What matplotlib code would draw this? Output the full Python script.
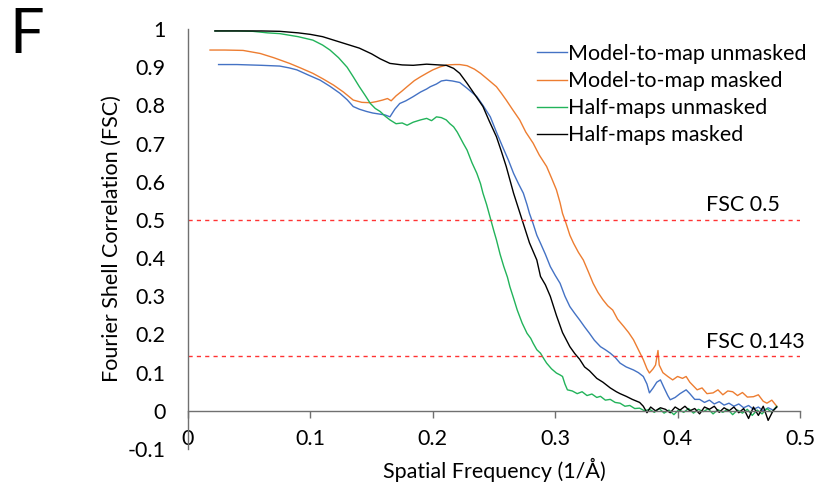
import matplotlib
matplotlib.use("Agg")
import matplotlib.pyplot as plt

# FSC curves (spatial frequency, FSC)
model_unmasked = [
    (0.025, 0.907), (0.04, 0.907), (0.06, 0.905), (0.075, 0.903), (0.083, 0.898), (0.089, 0.893),
    (0.098, 0.88), (0.108, 0.866), (0.116, 0.85), (0.124, 0.832), (0.130, 0.815), (0.135, 0.797),
    (0.140, 0.79), (0.146, 0.784), (0.151, 0.78), (0.157, 0.777), (0.161, 0.775), (0.165, 0.770),
    (0.169, 0.79), (0.173, 0.805), (0.178, 0.812), (0.184, 0.823), (0.190, 0.835), (0.195, 0.843),
    (0.198, 0.849), (0.203, 0.856), (0.207, 0.864), (0.211, 0.866), (0.216, 0.864), (0.222, 0.860),
    (0.228, 0.845), (0.236, 0.823), (0.241, 0.80), (0.247, 0.770), (0.252, 0.73), (0.257, 0.692),
    (0.262, 0.655), (0.266, 0.622), (0.270, 0.595), (0.274, 0.570), (0.277, 0.54), (0.279, 0.517),
    (0.282, 0.49), (0.285, 0.46), (0.288, 0.439), (0.292, 0.41), (0.296, 0.378), (0.300, 0.355),
    (0.304, 0.334), (0.308, 0.30), (0.312, 0.273), (0.316, 0.255), (0.320, 0.238), (0.324, 0.22),
    (0.328, 0.203), (0.332, 0.185), (0.337, 0.168), (0.341, 0.16), (0.345, 0.151), (0.349, 0.14),
    (0.353, 0.125), (0.358, 0.115), (0.364, 0.107), (0.368, 0.10), (0.372, 0.09), (0.375, 0.07),
    (0.377, 0.047), (0.380, 0.06), (0.383, 0.075), (0.386, 0.081), (0.389, 0.06), (0.392, 0.04),
    (0.394, 0.029), (0.398, 0.035), (0.402, 0.045), (0.407, 0.055), (0.410, 0.045), (0.414, 0.03),
    (0.418, 0.03), (0.422, 0.022), (0.426, 0.028), (0.430, 0.018), (0.434, 0.024), (0.438, 0.015),
    (0.442, 0.02), (0.446, 0.012), (0.450, 0.018), (0.454, 0.008), (0.458, 0.014), (0.462, 0.004),
    (0.466, 0.01), (0.470, 0.0), (0.474, 0.008), (0.478, 0.002), (0.481, 0.01),
]

model_masked = [
    (0.018, 0.945), (0.03, 0.945), (0.045, 0.944), (0.059, 0.936), (0.07, 0.925), (0.083, 0.910),
    (0.092, 0.898), (0.102, 0.884), (0.110, 0.87), (0.119, 0.853), (0.127, 0.835), (0.135, 0.814),
    (0.142, 0.808), (0.149, 0.807), (0.154, 0.81), (0.159, 0.814), (0.163, 0.818), (0.166, 0.812),
    (0.170, 0.825), (0.175, 0.838), (0.179, 0.849), (0.185, 0.865), (0.190, 0.875), (0.196, 0.886),
    (0.200, 0.893), (0.206, 0.901), (0.212, 0.906), (0.218, 0.907), (0.222, 0.907), (0.228, 0.904),
    (0.234, 0.895), (0.239, 0.884), (0.245, 0.868), (0.252, 0.849), (0.256, 0.832), (0.260, 0.814),
    (0.265, 0.79), (0.271, 0.762), (0.276, 0.73), (0.282, 0.701), (0.287, 0.67), (0.293, 0.640),
    (0.297, 0.61), (0.301, 0.579), (0.304, 0.545), (0.306, 0.517), (0.309, 0.49), (0.312, 0.46),
    (0.315, 0.439), (0.319, 0.415), (0.323, 0.395), (0.327, 0.365), (0.331, 0.334), (0.335, 0.31),
    (0.339, 0.291), (0.343, 0.275), (0.347, 0.264), (0.351, 0.24), (0.356, 0.221), (0.360, 0.205),
    (0.364, 0.186), (0.368, 0.16), (0.372, 0.134), (0.375, 0.11), (0.377, 0.099), (0.380, 0.11),
    (0.382, 0.12), (0.384, 0.158), (0.385, 0.12), (0.388, 0.10), (0.392, 0.09), (0.396, 0.081),
    (0.400, 0.09), (0.404, 0.085), (0.407, 0.09), (0.410, 0.075), (0.413, 0.065), (0.416, 0.055),
    (0.420, 0.06), (0.424, 0.045), (0.429, 0.047), (0.433, 0.055), (0.437, 0.042), (0.441, 0.052),
    (0.445, 0.05), (0.449, 0.04), (0.453, 0.048), (0.457, 0.036), (0.462, 0.037), (0.466, 0.042),
    (0.470, 0.025), (0.473, 0.02), (0.477, 0.028), (0.481, 0.012),
]

half_unmasked = [
    (0.022, 0.995), (0.04, 0.995), (0.053, 0.994), (0.065, 0.99), (0.075, 0.988), (0.09, 0.98),
    (0.102, 0.971), (0.11, 0.958), (0.116, 0.945), (0.123, 0.925), (0.130, 0.90), (0.135, 0.875),
    (0.140, 0.849), (0.145, 0.825), (0.149, 0.805), (0.153, 0.792), (0.157, 0.784), (0.161, 0.772),
    (0.165, 0.762), (0.170, 0.752), (0.175, 0.754), (0.179, 0.748), (0.184, 0.756), (0.190, 0.762),
    (0.195, 0.766), (0.199, 0.760), (0.203, 0.770), (0.207, 0.768), (0.211, 0.762), (0.214, 0.752),
    (0.217, 0.744), (0.220, 0.730), (0.222, 0.718), (0.225, 0.700), (0.228, 0.683), (0.232, 0.650),
    (0.236, 0.622), (0.239, 0.595), (0.241, 0.570), (0.244, 0.540), (0.247, 0.505), (0.250, 0.470),
    (0.252, 0.448), (0.255, 0.41), (0.258, 0.378), (0.261, 0.35), (0.263, 0.325), (0.266, 0.295),
    (0.269, 0.264), (0.273, 0.23), (0.277, 0.203), (0.280, 0.19), (0.282, 0.177), (0.285, 0.16),
    (0.288, 0.151), (0.291, 0.135), (0.293, 0.125), (0.297, 0.11), (0.301, 0.099), (0.304, 0.094),
    (0.306, 0.09), (0.308, 0.07), (0.310, 0.055), (0.314, 0.052), (0.318, 0.045), (0.322, 0.05),
    (0.326, 0.04), (0.330, 0.044), (0.334, 0.035), (0.337, 0.038), (0.341, 0.028), (0.345, 0.03),
    (0.349, 0.022), (0.353, 0.02), (0.357, 0.012), (0.361, 0.014), (0.365, 0.006), (0.369, 0.007),
    (0.373, 0.0), (0.377, 0.004), (0.381, -0.004), (0.385, 0.006), (0.389, -0.006), (0.393, 0.002),
    (0.397, -0.01), (0.401, 0.003), (0.405, -0.004), (0.409, 0.006), (0.413, -0.006), (0.417, 0.004),
    (0.421, -0.002), (0.425, 0.005), (0.429, -0.008), (0.433, 0.003), (0.437, -0.004), (0.441, 0.004),
    (0.445, -0.01), (0.449, 0.002), (0.453, -0.006), (0.457, 0.004), (0.461, -0.012), (0.465, 0.002),
    (0.469, -0.008), (0.473, 0.006), (0.477, -0.004), (0.481, 0.012),
]

half_masked = [
    (0.022, 0.995), (0.04, 0.995), (0.06, 0.995), (0.075, 0.994), (0.09, 0.99), (0.10, 0.986),
    (0.11, 0.98), (0.12, 0.97), (0.13, 0.96), (0.14, 0.95), (0.15, 0.935), (0.157, 0.922),
    (0.165, 0.91), (0.175, 0.906), (0.184, 0.905), (0.195, 0.908), (0.205, 0.906), (0.211, 0.905),
    (0.217, 0.897), (0.222, 0.884), (0.228, 0.858), (0.234, 0.83), (0.241, 0.797), (0.246, 0.76),
    (0.252, 0.718), (0.256, 0.68), (0.260, 0.64), (0.266, 0.57), (0.273, 0.5), (0.279, 0.44),
    (0.285, 0.395), (0.288, 0.352), (0.292, 0.33), (0.296, 0.30), (0.301, 0.25), (0.306, 0.205),
    (0.312, 0.168), (0.316, 0.15), (0.320, 0.135), (0.324, 0.115), (0.328, 0.105), (0.334, 0.085),
    (0.339, 0.075), (0.345, 0.06), (0.350, 0.05), (0.353, 0.045), (0.358, 0.038), (0.363, 0.03),
    (0.369, 0.022), (0.372, 0.012), (0.375, -0.005), (0.378, 0.01), (0.382, 0.0), (0.386, 0.008),
    (0.390, 0.004), (0.394, -0.005), (0.398, 0.01), (0.402, 0.002), (0.406, 0.012), (0.410, 0.0),
    (0.414, 0.006), (0.418, -0.008), (0.422, 0.01), (0.426, 0.004), (0.430, 0.012), (0.434, -0.004),
    (0.438, 0.008), (0.442, 0.0), (0.446, 0.01), (0.450, -0.005), (0.454, 0.006), (0.458, -0.02),
    (0.462, 0.01), (0.466, -0.012), (0.470, 0.012), (0.474, -0.025), (0.478, 0.0), (0.481, 0.01),
]

series = [
    ("Model-to-map unmasked", model_unmasked, "#4472C4"),
    ("Model-to-map masked", model_masked, "#ED7D31"),
    ("Half-maps unmasked", half_unmasked, "#22B35A"),
    ("Half-maps masked", half_masked, "#000000"),
]
thresholds = [0.5, 0.143]
threshold_labels = ["FSC 0.5", "FSC 0.143"]

plt.rcParams['font.family'] = ['Lato', 'DejaVu Sans']

fig = plt.figure(figsize=(8.22, 4.84), dpi=100)
ax = fig.add_axes([0.2287, 0.0723, 0.7445, 0.8677])

for name, pts, color in series:
    xs = [p[0] for p in pts]
    ys = [p[1] for p in pts]
    ax.plot(xs, ys, color=color, lw=1.0, label=name)

for t, lab in zip(thresholds, threshold_labels):
    ax.axhline(t, color='#FF3333', lw=1.0, ls=(0, (3, 3)))
    ax.text(0.423, t + 0.038, lab, fontsize=15.5, ha='left', va='center')

ax.set_xlim(0, 0.5)
ax.set_ylim(-0.1, 1.0)
ax.set_xticks([0, 0.1, 0.2, 0.3, 0.4, 0.5])
ax.set_xticklabels(['0', '0.1', '0.2', '0.3', '0.4', '0.5'])
ax.set_yticks([-0.1, 0, 0.1, 0.2, 0.3, 0.4, 0.5, 0.6, 0.7, 0.8, 0.9, 1.0])
ax.set_yticklabels(['-0.1', '0', '0.1', '0.2', '0.3', '0.4', '0.5', '0.6', '0.7', '0.8', '0.9', '1'])

ax.spines['top'].set_visible(False)
ax.spines['right'].set_visible(False)
ax.spines['bottom'].set_position(('data', 0))
for s in ['left', 'bottom']:
    ax.spines[s].set_color('#707070')
    ax.spines[s].set_linewidth(1.0)
ax.tick_params(axis='y', length=0, pad=16, labelsize=15.5)
ax.tick_params(axis='x', length=5, width=1, color='#707070', direction='out', pad=8, labelsize=15.5)

ax.set_ylabel('Fourier Shell Correlation (FSC)', fontsize=15.5, labelpad=4)
ax.set_xlabel('Spatial Frequency (1/Å)', fontsize=15.5)
ax.xaxis.set_label_coords(0.5, -0.022)

ax.legend(loc='upper right', bbox_to_anchor=(1.025, 0.985), frameon=False, fontsize=15.5,
          handlelength=1.4, handletextpad=0.05, labelspacing=0.33, borderaxespad=0)

fig.text(0.012, 0.985, 'F', fontsize=44, ha='left', va='top')

fig.savefig('out.png', dpi=100)
